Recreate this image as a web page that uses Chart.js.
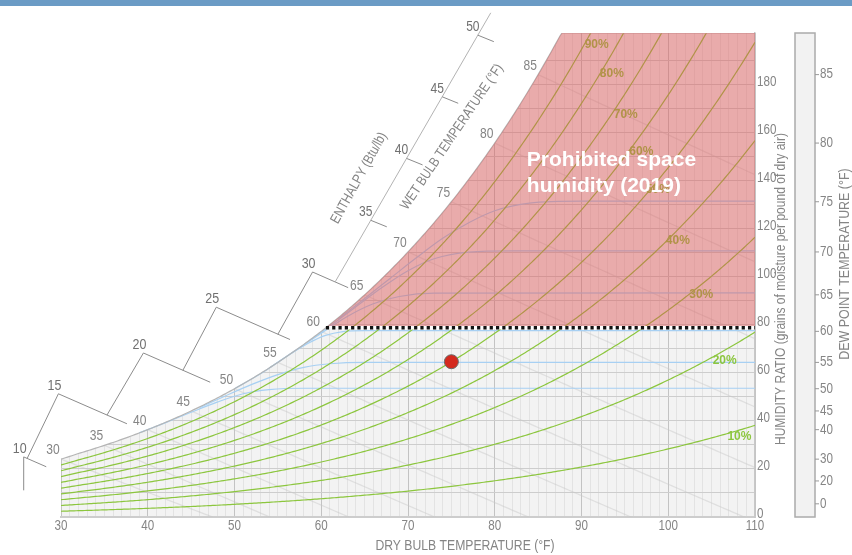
<!DOCTYPE html>
<html>
<head>
<meta charset="utf-8">
<title>Psychrometric chart</title>
<script src="https://cdn.jsdelivr.net/npm/chart.js@4.4.1/dist/chart.umd.min.js"></script>
<style>
  html, body { margin: 0; padding: 0; background: #fff; }
  #wrap { position: relative; width: 852px; height: 555px; overflow: hidden; }
  #topBar { position: absolute; left: 0; top: 0; width: 852px; height: 6px; background: #6b9bc5; }
  canvas { position: absolute; left: 0; top: 0; }
</style>
</head>
<body>
<div id="wrap">
  <canvas id="psychro" width="852" height="555"></canvas>
  <div id="topBar"></div>
</div>
<script>
// ---- chart values ----
const dryBulbMin = 30;
const dryBulbMax = 110;
const humidityMax = 201.5;                 // grains per lb at the top edge
const dryBulbTicks = [30, 40, 50, 60, 70, 80, 90, 100, 110];
const humidityTicks = [0, 20, 40, 60, 80, 100, 120, 140, 160, 180];
const rhLevels = [10, 20, 30, 40, 50, 60, 70, 80, 90];
// where each RH label sits: [dry bulb °F, grains]
const rhLabelAt = [[108.2, 33.6], [106.5, 64.9], [103.8, 92.4], [101.1, 114.9], [98.8, 136.1],
                   [96.9, 152.0], [95.1, 167.4], [93.5, 184.5], [91.75, 196.5]];
const wetBulbLevels = [30, 35, 40, 45, 50, 55, 60, 65, 70, 75, 80, 85];
const enthalpyLevels = [10, 15, 20, 25, 30, 35, 40, 45, 50];
const dewPointTicks = [0, 20, 30, 40, 45, 50, 55, 60, 65, 70, 75, 80, 85];
const prohibitedGrains = 78.8;             // 2019 space humidity limit
const spacePoint = { dryBulb: 75, rh: 50 };
// light blue traces: dry bulb °F
const traceDryBulb = [
  [39, 42, 45, 48, 51, 54, 58, 110],
  [46, 49, 52, 55, 58, 61, 65, 110],
  [50, 53, 56, 58.5, 60.5, 62.5, 65, 110],
  [54, 57, 60, 63, 66, 69, 73, 110],
  [58, 61, 64, 67, 70, 73, 77, 82, 110],
  [62, 65, 68, 71, 74, 77, 80, 84, 90, 110]
];
// light blue traces: grains
const traceGrains = [
  [35.0, 39.2, 43.6, 47.8, 51.3, 53.0, 53.6, 53.6],
  [45.6, 50.5, 55.2, 59.3, 62.3, 63.8, 64.4, 64.4],
  [53.4, 59.6, 66.8, 72.3, 75.6, 77.2, 77.6, 77.6],
  [62.0, 69.3, 76.5, 83.5, 88.8, 91.8, 93.2, 93.3],
  [71.8, 79.5, 87.5, 95.5, 102.5, 107.5, 110.3, 110.8, 110.8],
  [82.5, 91.0, 99.5, 108.0, 116.0, 122.5, 127.5, 130.7, 131.5, 131.5]
];

// ---- psychrometrics (sea level) ----
const P_ATM = 14.696;

function pws(tF) {
  const T = tF + 459.67;
  if (tF < 32) {
    return Math.exp(-1.0214165e4 / T - 4.8932428 - 5.3765794e-3 * T + 1.9202377e-7 * T * T
      + 3.5575832e-10 * T ** 3 - 9.0344688e-14 * T ** 4 + 4.1635019 * Math.log(T));
  }
  return Math.exp(-1.0440397e4 / T - 1.129465e1 - 2.7022355e-2 * T + 1.289036e-5 * T * T
    - 2.4780681e-9 * T ** 3 + 6.5459673 * Math.log(T));
}

function grains(tF, rh) {
  const p = rh * pws(tF);
  return 0.621945 * p / (P_ATM - p) * 7000;
}

function wetBulbGrains(t, twb) {
  const ws = grains(twb, 1) / 7000;
  let w;
  if (twb >= 32) w = ((1093 - 0.556 * twb) * ws - 0.24 * (t - twb)) / (1093 + 0.444 * t - twb);
  else w = ((1220 - 0.04 * twb) * ws - 0.24 * (t - twb)) / (1220 + 0.444 * t - 0.48 * twb);
  return w * 7000;
}

function enthalpyGrains(t, h) {
  return (h - 0.24 * t) / (1061 + 0.444 * t) * 7000;
}

function tempAtSaturation(w) {
  let lo = 0, hi = 130;
  for (let i = 0; i < 60; i++) {
    const mid = (lo + hi) / 2;
    if (grains(mid, 1) < w) lo = mid; else hi = mid;
  }
  return (lo + hi) / 2;
}

function range(a, b, step) {
  const out = [];
  for (let v = a; v <= b + 1e-9; v += step) out.push(+v.toFixed(4));
  return out;
}

// ---- datasets ----
const tSteps = range(dryBulbMin, dryBulbMax, 0.25);
const satPoints = tSteps.map(t => ({ x: t, y: Math.min(grains(t, 1), humidityMax) }));
const tLimit = tempAtSaturation(prohibitedGrains);
const prohibitedPoints = [{ x: tLimit, y: prohibitedGrains }]
  .concat(tSteps.filter(t => t > tLimit).map(t => ({ x: t, y: Math.min(grains(t, 1), humidityMax) })));

const datasets = [];

// white above the saturation curve hides the grid there
datasets.push({ data: satPoints, fill: 'end', backgroundColor: '#ffffff', borderWidth: 0, order: 20 });

wetBulbLevels.forEach(twb => {
  const pts = [];
  for (let t = Math.max(twb, dryBulbMin); t <= dryBulbMax; t += 0.5) {
    const w = wetBulbGrains(t, twb);
    pts.push({ x: t, y: w });
    if (w < 0) break;
  }
  datasets.push({ data: pts, borderColor: 'rgba(200,200,200,0.45)', borderWidth: 1.3, fill: false, order: 16 });
});

traceDryBulb.forEach((temps, i) => {
  datasets.push({
    data: temps.map((t, j) => ({ x: t, y: traceGrains[i][j] })),
    borderColor: '#a7d0f3', borderWidth: 1.2, fill: false,
    cubicInterpolationMode: 'monotone', order: 14
  });
});

rhLevels.forEach((rh, i) => {
  datasets.push({
    data: tSteps.map(t => ({ x: t, y: grains(t, rh / 100) })),
    borderColor: '#8cc63e', borderWidth: 1.2, fill: false, rhLabel: i, order: 12
  });
});

datasets.push({ data: satPoints, borderColor: '#b5b5b5', borderWidth: 1.2, fill: false, order: 10 });

datasets.push({
  data: prohibitedPoints, fill: { value: prohibitedGrains },
  backgroundColor: 'rgba(222,85,85,0.45)', borderWidth: 0, order: 8
});

const limitLine = [{ x: tLimit, y: prohibitedGrains }, { x: dryBulbMax, y: prohibitedGrains }];
datasets.push({ data: limitLine, borderColor: '#ffffff', borderWidth: 3.4, fill: false, order: 6 });
datasets.push({ data: limitLine, borderColor: '#111111', borderWidth: 3.4, borderDash: [3.2, 3.1], fill: false, order: 5 });

datasets.push({
  data: [{ x: spacePoint.dryBulb, y: grains(spacePoint.dryBulb, spacePoint.rh / 100) }],
  showLine: false, pointRadius: 7, pointBackgroundColor: '#d42a1f',
  pointBorderColor: '#6b6b6b', pointBorderWidth: 1, order: 0
});

datasets.forEach(ds => { if (ds.pointRadius === undefined) ds.pointRadius = 0; });

// ---- drawing helpers ----
const SANS = "'Liberation Sans', Arial, sans-serif";
const NARROW = 0.83;   // horizontal squeeze for the narrow axis lettering

function line(ctx, x1, y1, x2, y2) {
  ctx.beginPath(); ctx.moveTo(x1, y1); ctx.lineTo(x2, y2); ctx.stroke();
}

function narrowText(ctx, text, x, y, deg) {
  ctx.save();
  ctx.translate(x, y);
  if (deg) ctx.rotate(deg * Math.PI / 180);
  ctx.scale(NARROW, 1);
  ctx.fillText(text, 0, 0);
  ctx.restore();
}

const psychroDecor = {
  id: 'psychroDecor',
  beforeDraw(chart) {
    const { ctx, chartArea: a } = chart;
    ctx.save();
    ctx.fillStyle = '#f3f3f3';
    ctx.fillRect(a.left, a.top, a.right - a.left, a.bottom - a.top);
    ctx.restore();
  },
  afterDatasetDraw(chart, args) {
    const ds = chart.data.datasets[args.index];
    if (ds.rhLabel === undefined) return;
    const { ctx, scales: { x, y } } = chart;
    const [t, w] = rhLabelAt[ds.rhLabel];
    ctx.save();
    ctx.font = 'bold 12px ' + SANS;
    ctx.fillStyle = '#8cc63e';
    ctx.textAlign = 'center'; ctx.textBaseline = 'middle';
    ctx.fillText(rhLevels[ds.rhLabel] + '%', x.getPixelForValue(t), y.getPixelForValue(w));
    ctx.restore();
  },
  afterDatasetsDraw(chart) {
    const { ctx, scales: { x, y } } = chart;
    ctx.save();
    ctx.font = 'bold 21px ' + SANS;
    ctx.fillStyle = '#ffffff';
    ctx.textAlign = 'left'; ctx.textBaseline = 'middle';
    const px = x.getPixelForValue(83.7), py = y.getPixelForValue(148.6);
    ctx.fillText('Prohibited space', px, py);
    ctx.fillText('humidity (2019)', px, py + 26);
    ctx.restore();
  },
  afterDraw(chart) {
    const { ctx, chartArea: a, scales: { x, y } } = chart;
    const P = (t, w) => [x.getPixelForValue(t), y.getPixelForValue(w)];
    ctx.save();
    ctx.textBaseline = 'middle';
    ctx.font = '14px ' + SANS;

    // axis tick labels
    ctx.fillStyle = '#858585';
    ctx.textAlign = 'center';
    dryBulbTicks.forEach(v => narrowText(ctx, String(v), x.getPixelForValue(v), a.bottom + 9));
    ctx.textAlign = 'left';
    humidityTicks.forEach(v => narrowText(ctx, String(v), a.right + 2, y.getPixelForValue(v) - 3));

    // axis titles
    ctx.textAlign = 'center';
    ctx.font = '14.7px ' + SANS;
    narrowText(ctx, 'DRY BULB TEMPERATURE (°F)', 465, 546);
    ctx.font = '14.5px ' + SANS;
    narrowText(ctx, 'HUMIDITY RATIO (grains of moisture per pound of dry air)', 781, 289, -90);
    ctx.font = '15px ' + SANS;
    narrowText(ctx, 'DEW POINT TEMPERATURE (°F)', 845, 264, -90);
    ctx.font = '14px ' + SANS;

    // dew point bar
    const bx0 = 795, bx1 = 815;
    ctx.fillStyle = '#f2f2f2';
    ctx.fillRect(bx0, a.top, bx1 - bx0, a.bottom - a.top);
    ctx.strokeStyle = '#ababab'; ctx.lineWidth = 1.5;
    ctx.strokeRect(bx0, a.top, bx1 - bx0, a.bottom - a.top);
    ctx.lineWidth = 1; ctx.strokeStyle = '#999';
    ctx.fillStyle = '#858585';
    ctx.textAlign = 'left';
    dewPointTicks.forEach(td => {
      const py = y.getPixelForValue(grains(td, 1));
      line(ctx, bx1, py, bx1 + 4, py);
      narrowText(ctx, String(td), bx1 + 5, py);
    });

    // wet bulb labels along the saturation curve
    ctx.textAlign = 'center';
    ctx.fillStyle = '#858585';
    ctx.font = '14.5px ' + SANS;
    wetBulbLevels.forEach(twb => {
      const [px, py] = P(twb, grains(twb, 1));
      narrowText(ctx, String(twb), px - 8, py - 9);
    });

    // enthalpy scale: stepped part
    const cornerT = [25.7, 29.7, 39.5, 47.9, 59.0];
    const endT = [28.3, 37.6, 47.2, 56.4, 63.1];
    const joinT = [null, 26.1, 35.3, 44.05, 55.0];
    ctx.strokeStyle = '#8c8c8c'; ctx.lineWidth = 1;
    ctx.fillStyle = '#707070';
    ctx.font = '15px ' + SANS;
    for (let i = 0; i < 5; i++) {
      const h = enthalpyLevels[i];
      const [cx, cy] = P(cornerT[i], enthalpyGrains(cornerT[i], h));
      const [ex, ey] = P(endT[i], enthalpyGrains(endT[i], h));
      line(ctx, cx, cy, ex, ey);
      if (i === 0) {
        line(ctx, cx, cy, cx, y.getPixelForValue(11.1));
      } else {
        const [jx, jy] = P(joinT[i], enthalpyGrains(joinT[i], enthalpyLevels[i - 1]));
        line(ctx, cx, cy, jx, jy);
      }
      narrowText(ctx, String(h), cx - 4, cy - 8);
    }

    // enthalpy scale: straight part
    const [sx, sy] = P(61.6, enthalpyGrains(61.6, 30));
    const [fx, fy] = P(79.54, 209.9);
    ctx.strokeStyle = '#b3b3b3';
    line(ctx, sx, sy, fx, fy);
    ctx.strokeStyle = '#8c8c8c';
    ctx.font = '14.5px ' + SANS;
    const along = [0.229, 0.459, 0.688, 0.917];
    enthalpyLevels.slice(5).forEach((h, k) => {
      const qx = sx + (fx - sx) * along[k], qy = sy + (fy - sy) * along[k];
      line(ctx, qx, qy, qx + 16, qy + 6.5);
      narrowText(ctx, String(h), qx - 5, qy - 8);
    });

    // slanted titles
    ctx.fillStyle = '#858585';
    ctx.font = '14px ' + SANS;
    narrowText(ctx, 'ENTHALPY (Btu/lb)', 359, 178, -61);
    narrowText(ctx, 'WET BULB TEMPERATURE (°F)', 452, 137, -56);

    ctx.restore();
  }
};

Chart.defaults.font.family = SANS;

new Chart(document.getElementById('psychro'), {
  type: 'line',
  data: { datasets },
  options: {
    responsive: false,
    animation: false,
    devicePixelRatio: 1,
    events: [],
    layout: { padding: { left: 61, top: 33, right: 0, bottom: 0 } },
    plugins: { legend: { display: false }, tooltip: { enabled: false } },
    scales: {
      x: {
        type: 'linear', min: dryBulbMin, max: dryBulbMax,
        afterFit: s => { s.height = 38; },
        ticks: { stepSize: 1, autoSkip: false, display: false },
        grid: {
          drawTicks: false,
          color: c => (c.tick.value % 10 === 0 ? '#c3c3c3' : '#e3e3e3'),
          lineWidth: 1
        },
        border: { display: true, color: '#cdcdcd', width: 2 }
      },
      y: {
        type: 'linear', position: 'right', min: 0, max: humidityMax,
        afterFit: s => { s.width = 97; },
        ticks: { stepSize: 10, autoSkip: false, display: false },
        grid: {
          drawTicks: false,
          color: c => (c.tick.value % 10 === 0 ? '#cdcdcd' : 'rgba(0,0,0,0)'),
          lineWidth: 1
        },
        border: { display: true, color: '#c8c8c8', width: 1.5 }
      }
    }
  },
  plugins: [psychroDecor]
});
</script>
</body>
</html>
